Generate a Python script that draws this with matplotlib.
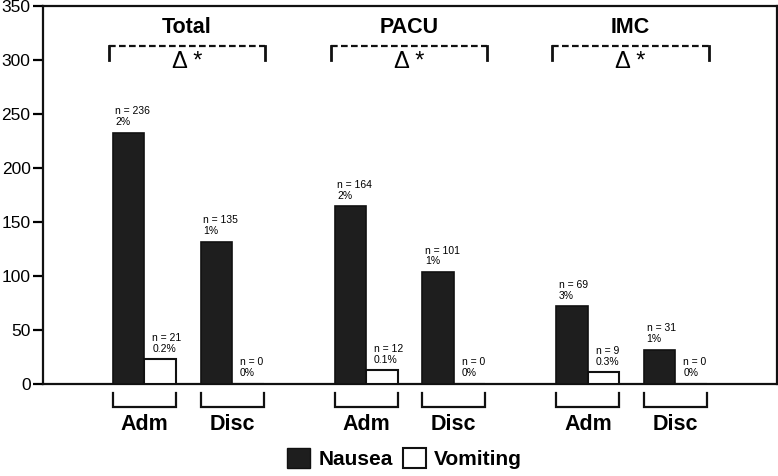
import matplotlib

matplotlib.use('Agg')
import matplotlib.pyplot as plt
from matplotlib.patches import Patch

plt.rcParams['font.family'] = ['Liberation Sans', 'DejaVu Sans']

# data
groups = ['Total', 'PACU', 'IMC']
phases = ['Adm', 'Disc']
nausea = [233, 132, 165, 104, 72, 32]
vomiting = [23, 0, 13, 0, 11, 0]
nausea_labels = ['n = 236\n2%', 'n = 135\n1%', 'n = 164\n2%',
                 'n = 101\n1%', 'n = 69\n3%', 'n = 31\n1%']
vomiting_labels = ['n = 21\n0.2%', 'n = 0\n0%', 'n = 12\n0.1%',
                   'n = 0\n0%', 'n = 9\n0.3%', 'n = 0\n0%']
sig_text = 'Δ *'

group_step = 7.04
phase_offsets = [2.22, 5.0]
bar_w = 1.0

fig = plt.figure(figsize=(7.78, 4.76), dpi=100)
ax = fig.add_axes([0.0553, 0.193, 0.9433, 0.794])

lefts = []
for g in range(len(groups)):
    for p in range(len(phases)):
        lefts.append(g * group_step + phase_offsets[p])

for i, x in enumerate(lefts):
    ax.bar(x, nausea[i], width=bar_w, align='edge', color='#1e1e1e',
           edgecolor='#111111', linewidth=1.2, zorder=3)
    ax.bar(x + bar_w, vomiting[i], width=bar_w, align='edge', color='white',
           edgecolor='#111111', linewidth=1.5, zorder=3)
    ax.text(x + 0.08, nausea[i] + 5, nausea_labels[i], fontsize=7.5,
            ha='left', va='bottom', linespacing=1.1)
    vy = vomiting[i] + 5 if vomiting[i] > 0 else 6
    ax.text(x + bar_w + 0.25, vy, vomiting_labels[i], fontsize=7.5,
            ha='left', va='bottom', linespacing=1.1)
    # bracket under each pair
    ax.plot([x, x, x + 2 * bar_w, x + 2 * bar_w], [-8.5, -21.5, -21.5, -8.5],
            color='#111111', lw=1.6, clip_on=False, solid_joinstyle='miter')
    ax.text(x + bar_w, -37, phases[i % 2], fontsize=15.5, fontweight='bold',
            ha='center', va='center')

for g, name in enumerate(groups):
    x0 = g * group_step + phase_offsets[0] - 0.13
    x1 = g * group_step + phase_offsets[1] + 2 * bar_w + 0.05
    ax.plot([x0, x1], [313, 313], color='#111111', lw=1.6,
            linestyle=(0, (3, 1.5)))
    ax.plot([x0, x0], [313, 300], color='#111111', lw=2)
    ax.plot([x1, x1], [313, 300], color='#111111', lw=2)
    xc = (x0 + x1) / 2
    ax.text(xc, 298, sig_text, fontsize=17, ha='center', va='center')
    ax.text(xc, 330, name, fontsize=15.5, fontweight='bold',
            ha='center', va='center')

ax.set_xlim(0, 23.3)
ax.set_ylim(0, 350)
ax.set_yticks(range(0, 351, 50))
ax.set_xticks([])
ax.tick_params(axis='y', length=7, width=1.6, labelsize=12.5, pad=2)
for s in ax.spines.values():
    s.set_linewidth(1.6)
    s.set_color('#111111')

handles = [Patch(facecolor='#1e1e1e', edgecolor='#111111', label='Nausea'),
           Patch(facecolor='white', edgecolor='#111111', linewidth=1.5,
                 label='Vomiting')]
fig.legend(handles=handles, loc='lower center', bbox_to_anchor=(0.52, -0.025),
           ncol=2, frameon=False, prop={'size': 15, 'weight': 'bold'},
           handlelength=1.1, handleheight=1.1, handletextpad=0.4,
           columnspacing=0.5)

fig.savefig('out.png', dpi=100)
